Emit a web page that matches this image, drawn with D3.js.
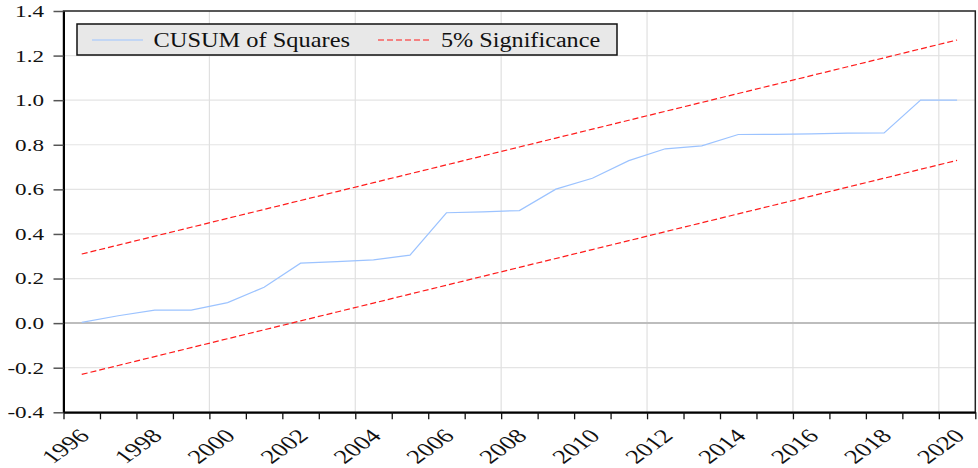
<!DOCTYPE html>
<html>
<head>
<meta charset="utf-8">
<script src="https://cdn.jsdelivr.net/npm/d3@7"></script>
<style>
	html, body{ margin:0; padding:0; background:#fff; }
	svg text{ font-family:"Liberation Serif", "Times New Roman", serif; fill:#111; }
</style>
</head>
<body>
<div id="chart"></div>
<script>
// annual observations, drawn at the middle of each year
var years = [1996, 1997, 1998, 1999, 2000, 2001, 2002, 2003, 2004, 2005, 2006, 2007, 2008,
		2009, 2010, 2011, 2012, 2013, 2014, 2015, 2016, 2017, 2018, 2019, 2020]
	, cusumSq = [0.003, 0.033, 0.058, 0.058, 0.092, 0.161, 0.269, 0.276, 0.284, 0.305, 0.495, 0.499, 0.505,
		0.601, 0.650, 0.729, 0.782, 0.795, 0.846, 0.847, 0.849, 0.852, 0.853, 1.000, 1.000]
	, upper5 = [0.31, 0.35, 0.39, 0.43, 0.47, 0.51, 0.55, 0.59, 0.63, 0.67, 0.71, 0.75, 0.79,
		0.83, 0.87, 0.91, 0.95, 0.99, 1.03, 1.07, 1.11, 1.15, 1.19, 1.23, 1.27]
	, lower5 = [-0.23, -0.19, -0.15, -0.11, -0.07, -0.03, 0.01, 0.05, 0.09, 0.13, 0.17, 0.21, 0.25,
		0.29, 0.33, 0.37, 0.41, 0.45, 0.49, 0.53, 0.57, 0.61, 0.65, 0.69, 0.73]
	, yTicks = [-0.4, -0.2, 0.0, 0.2, 0.4, 0.6, 0.8, 1.0, 1.2, 1.4]
	, yLabels = ['-0.4', '-0.2', '0.0', '0.2', '0.4', '0.6', '0.8', '1.0', '1.2', '1.4']
	, xLabelYears = [1996, 1998, 2000, 2002, 2004, 2006, 2008, 2010, 2012, 2014, 2016, 2018, 2020]
	, xGridYears = [2000, 2004, 2008, 2012, 2016, 2020]
	, legendNames = ['CUSUM of Squares', '5% Significance']
	;

(function(){
	var W = 978, H = 468
		, pl = 63.5, pr = 975.3, pt = 11, pb = 412.3
		, sx = 1.38	// the picture is stretched sideways, text too

		, svg = d3.select('#chart').append('svg').attr('width', W).attr('height', H)
		, x = d3.scaleLinear().domain([1996, 2021]).range([pl, pr])
		, y = d3.scaleLinear().domain([-0.4, 1.4]).range([pb, pt])
		, mid = function(d){ return x(d + 0.5); }
		, line = function(vals){
			return d3.line().x(function(d, i){ return mid(years[i]); }).y(function(d){ return y(d); })(vals);
		}
		, lg
		;

	// grid
	svg.append('g').selectAll('line').data(yTicks.filter(function(d){ return d !== 0 && d !== 1.4 && d !== -0.4; }))
		.enter().append('line')
		.attr('x1', pl).attr('x2', pr).attr('y1', y).attr('y2', y)
		.attr('stroke', '#e4e4e4').attr('stroke-width', 1.2);
	svg.append('g').selectAll('line').data(xGridYears).enter().append('line')
		.attr('x1', x).attr('x2', x).attr('y1', pt).attr('y2', pb)
		.attr('stroke', '#e0e0e0').attr('stroke-width', 1.2);
	svg.append('line').attr('x1', pl).attr('x2', pr).attr('y1', y(0)).attr('y2', y(0))
		.attr('stroke', '#bdbdbd').attr('stroke-width', 2);

	// lines
	svg.append('path').attr('d', line(upper5)).attr('fill', 'none')
		.attr('stroke', '#ff1a1a').attr('stroke-width', 1.2).attr('stroke-dasharray', '6,3');
	svg.append('path').attr('d', line(lower5)).attr('fill', 'none')
		.attr('stroke', '#ff1a1a').attr('stroke-width', 1.2).attr('stroke-dasharray', '6,3');
	svg.append('path').attr('d', line(cusumSq)).attr('fill', 'none')
		.attr('stroke', '#9cc3ff').attr('stroke-width', 1.2);

	// frame
	svg.append('rect').attr('x', pl).attr('y', pt).attr('width', pr - pl).attr('height', pb - pt)
		.attr('fill', 'none').attr('stroke', '#222').attr('stroke-width', 1.5);

	// axes
	svg.append('g').attr('transform', 'translate(' + pl + ',0)')
		.call(d3.axisLeft(y).tickValues(yTicks).tickSize(10).tickSizeOuter(0).tickFormat(''))
		.call(function(g){
			g.select('.domain').attr('stroke', '#000').attr('stroke-width', 2);
			g.selectAll('.tick line').attr('stroke', '#555').attr('stroke-width', 1.5);
		});
	svg.append('g').attr('transform', 'translate(0,' + pb + ')')
		.call(d3.axisBottom(x).tickValues(d3.range(1996, 2022)).tickSize(7).tickSizeOuter(0).tickFormat(''))
		.call(function(g){
			g.select('.domain').attr('stroke', '#000').attr('stroke-width', 2);
			g.selectAll('.tick line').attr('stroke', '#111').attr('stroke-width', 1.3);
		});

	// tick labels
	svg.append('g').selectAll('text').data(yTicks).enter().append('text')
		.attr('transform', function(d){ return 'translate(44,' + y(d) + ') scale(1.36,1)'; })
		.attr('text-anchor', 'end').attr('dy', '0.35em').attr('font-size', 17)
		.text(function(d, i){ return yLabels[i]; });
	svg.append('g').selectAll('text').data(xLabelYears).enter().append('text')
		.attr('transform', function(d){ return 'translate(' + (x(d) + 1.5) + ',446) scale(' + sx + ',1) rotate(-45)'; })
		.attr('text-anchor', 'middle').attr('dy', '0.35em').attr('font-size', 19.5)
		.text(function(d){ return d; });

	// legend
	lg = svg.append('g');
	lg.append('rect').attr('x', 77).attr('y', 24).attr('width', 540).attr('height', 31)
		.attr('fill', '#e8e8e8').attr('stroke', '#111').attr('stroke-width', 1.5);
	lg.append('line').attr('x1', 92).attr('x2', 143).attr('y1', 40).attr('y2', 40)
		.attr('stroke', '#9cc3ff').attr('stroke-width', 1.2);
	lg.append('line').attr('x1', 378).attr('x2', 430).attr('y1', 40).attr('y2', 40)
		.attr('stroke', '#ff1a1a').attr('stroke-width', 1.2).attr('stroke-dasharray', '6,3');
	lg.append('text').attr('transform', 'translate(153.5,46.5) scale(1.22,1)').attr('font-size', 20).text(legendNames[0]);
	lg.append('text').attr('transform', 'translate(441,46.5) scale(1.21,1)').attr('font-size', 20).text(legendNames[1]);
})();
</script>
</body>
</html>
